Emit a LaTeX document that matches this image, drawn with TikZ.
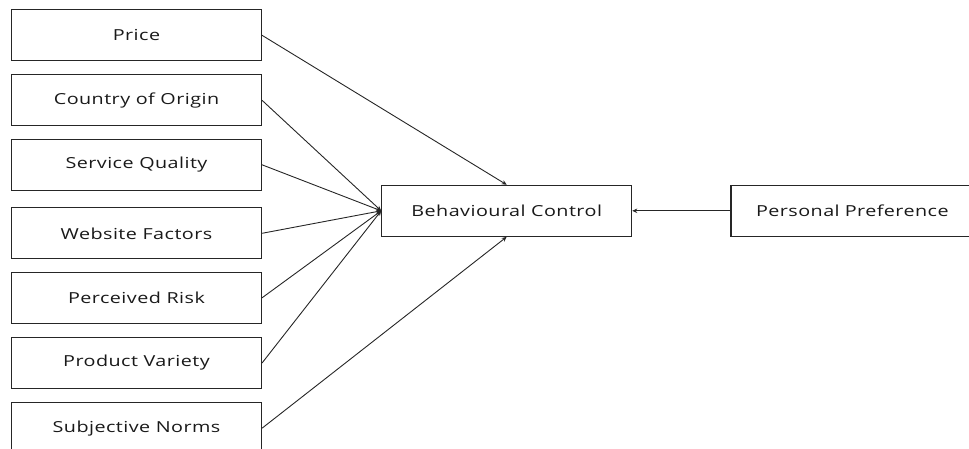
\documentclass[tikz,border=0pt]{standalone}
\usepackage{fontspec}
\setmainfont{Open Sans}[FakeStretch=1.3,LetterSpace=3]
\usetikzlibrary{arrows.meta}
\begin{document}
\begin{tikzpicture}[x=1pt,y=-1pt,
  box/.style={draw=black!85,line width=1.1pt,minimum width=250pt,minimum height=51pt,inner sep=0pt,font=\fontsize{15.2}{17}\selectfont,text=black!90},
  link/.style={draw=black!85,line width=0.9pt,-{Stealth[length=5pt,width=4.5pt]}}]
\clip (0,0) rectangle (969,448);
\node[box] (price) at (136.5,35.3) {Price};
\node[box] (coo) at (136.5,100.3) {Country of Origin};
\node[box] (sq) at (136.5,164.8) {Service Quality};
\node[box] (wf) at (136.5,233.3) {Website Factors};
\node[box] (pr) at (136.5,297.8) {Perceived Risk};
\node[box] (pv) at (136.5,363) {Product Variety};
\node[box] (sn) at (136.5,428.2) {Subjective Norms};
\node[box] (bc) at (506.7,210.8) {Behavioural Control};
\node[box,text width=250pt,align=left] (pp) at (856,210.8) {\hspace*{25pt}Personal Preference};
\draw[link] (price.east) -- (bc.north);
\draw[link] (coo.east) -- (bc.west);
\draw[link] (sq.east) -- (bc.west);
\draw[link] (wf.east) -- (bc.west);
\draw[link] (pr.east) -- (bc.west);
\draw[link] (pv.east) -- (bc.west);
\draw[link] (sn.east) -- (bc.south);
\draw[link] (pp.west) -- (bc.east);
\end{tikzpicture}
\end{document}
